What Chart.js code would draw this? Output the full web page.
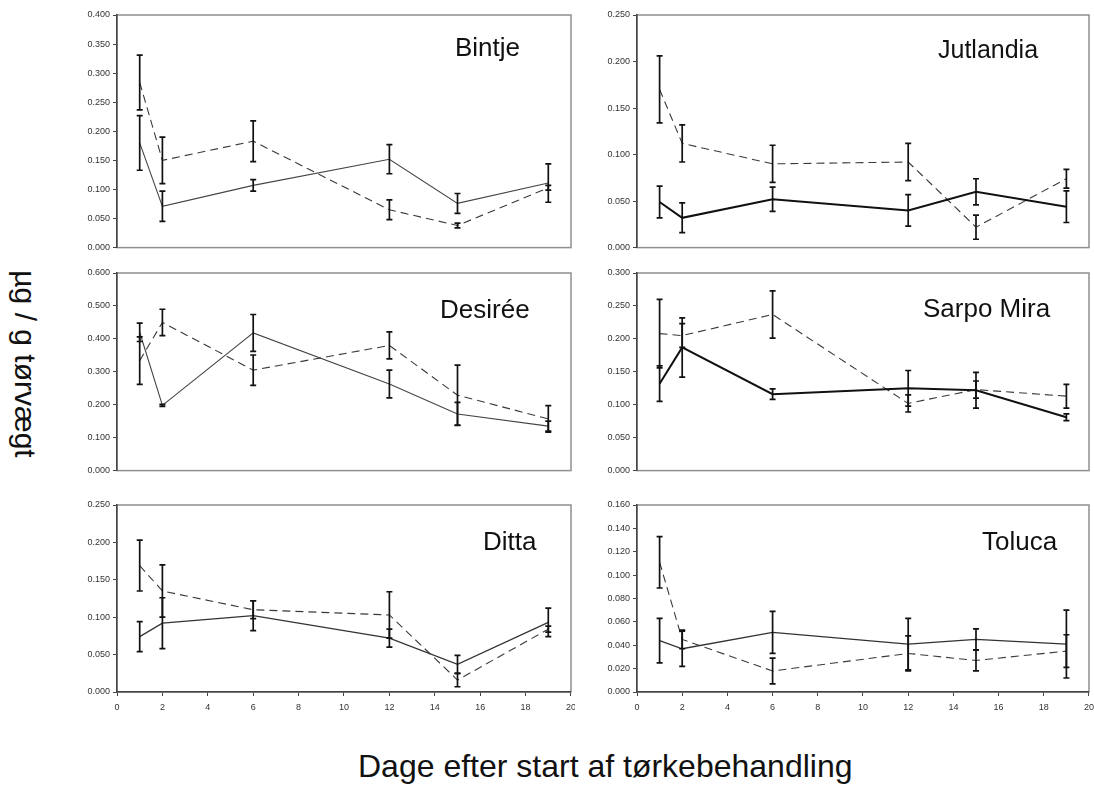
<!DOCTYPE html>
<html><head><meta charset="utf-8">
<script src="https://cdn.jsdelivr.net/npm/chart.js@4"></script>
<style>
html,body{margin:0;padding:0;background:#fff;width:1094px;height:787px;overflow:hidden;position:relative;font-family:"Liberation Sans",Arial,sans-serif}
canvas{position:absolute}
.ttl{position:absolute;color:#111;white-space:nowrap}
#ytitle{left:-125px;top:349px;width:300px;text-align:center;transform:rotate(90deg);font-size:30px;line-height:30px}
#xtitle{left:358px;top:750px;font-size:32px;line-height:32px}
</style></head><body>
<div id="ytitle" class="ttl">µg / g tørvægt</div>
<div id="xtitle" class="ttl">Dage efter start af tørkebehandling</div>
<script>
// ---- data ----
const days = [1, 2, 6, 12, 15, 19];
const varieties = ["Bintje", "Jutlandia", "Desirée", "Sarpo Mira", "Ditta", "Toluca"];
const yMaxes = [0.4, 0.25, 0.6, 0.3, 0.25, 0.16];
const ySteps = [0.05, 0.05, 0.1, 0.05, 0.05, 0.02];

const bintjeSolid = [0.180, 0.071, 0.107, 0.152, 0.076, 0.111];
const bintjeSolidErr = [0.047, 0.026, 0.010, 0.025, 0.017, 0.033];
const bintjeDashed = [0.284, 0.150, 0.183, 0.065, 0.038, 0.103];
const bintjeDashedErr = [0.047, 0.040, 0.035, 0.017, 0.004, 0.004];

const jutlandiaSolid = [0.049, 0.032, 0.052, 0.040, 0.060, 0.044];
const jutlandiaSolidErr = [0.017, 0.016, 0.013, 0.017, 0.014, 0.017];
const jutlandiaDashed = [0.170, 0.112, 0.090, 0.092, 0.022, 0.074];
const jutlandiaDashedErr = [0.036, 0.020, 0.020, 0.020, 0.013, 0.010];

const desireeSolid = [0.420, 0.198, 0.418, 0.263, 0.172, 0.135];
const desireeSolidErr = [0.028, 0.003, 0.056, 0.042, 0.035, 0.015];
const desireeDashed = [0.334, 0.450, 0.305, 0.380, 0.229, 0.157];
const desireeDashedErr = [0.072, 0.040, 0.046, 0.041, 0.091, 0.040];

const sarpoSolid = [0.132, 0.187, 0.116, 0.125, 0.122, 0.081];
const sarpoSolidErr = [0.027, 0.045, 0.008, 0.027, 0.027, 0.005];
const sarpoDashed = [0.208, 0.205, 0.237, 0.102, 0.123, 0.113];
const sarpoDashedErr = [0.052, 0.018, 0.036, 0.013, 0.013, 0.018];

const dittaSolid = [0.074, 0.092, 0.102, 0.072, 0.037, 0.093];
const dittaSolidErr = [0.020, 0.034, 0.020, 0.012, 0.012, 0.019];
const dittaDashed = [0.169, 0.135, 0.110, 0.103, 0.016, 0.084];
const dittaDashedErr = [0.034, 0.035, 0.012, 0.031, 0.009, 0.004];

const tolucaSolid = [0.044, 0.037, 0.051, 0.041, 0.045, 0.041];
const tolucaSolidErr = [0.019, 0.015, 0.018, 0.022, 0.009, 0.029];
const tolucaDashed = [0.111, 0.045, 0.018, 0.033, 0.027, 0.035];
const tolucaDashedErr = [0.022, 0.008, 0.011, 0.015, 0.009, 0.014];

const solids = [bintjeSolid, jutlandiaSolid, desireeSolid, sarpoSolid, dittaSolid, tolucaSolid];
const solidErrs = [bintjeSolidErr, jutlandiaSolidErr, desireeSolidErr, sarpoSolidErr, dittaSolidErr, tolucaSolidErr];
const dasheds = [bintjeDashed, jutlandiaDashed, desireeDashed, sarpoDashed, dittaDashed, tolucaDashed];
const dashedErrs = [bintjeDashedErr, jutlandiaDashedErr, desireeDashedErr, sarpoDashedErr, dittaDashedErr, tolucaDashedErr];

// ---- layout / style (not data) ----
const cols = [
  {left: 50, yW: 67, plotRight: 571},
  {left: 575, yW: 62, plotRight: 1089}
];
const rows = [
  {top: 5, plotTop: 15, plotBottom: 250, bottom: false},
  {top: 262, plotTop: 273, plotBottom: 473, bottom: false},
  {top: 494, plotTop: 505, plotBottom: 692, bottom: true}
];
const titlePos = [[455, 56, 26], [938, 58, 25], [440, 318, 26], [923, 317, 26], [483, 550, 26], [982, 550, 26]];
const solidWidths = [1.1, 2, 1.1, 2, 1.3, 1.3];
const solidColors = ['#444', '#111', '#444', '#111', '#333', '#333'];

const errorBars = {
  id: 'errorBars',
  afterDatasetsDraw(chart) {
    const ctx = chart.ctx, xs = chart.scales.x, ys = chart.scales.y;
    chart.data.datasets.forEach(ds => {
      ctx.save();
      ctx.strokeStyle = '#111';
      ctx.lineWidth = 1.7;
      ctx.setLineDash([]);
      ds.data.forEach((p, i) => {
        const e = ds.err[i];
        const px = xs.getPixelForValue(p.x);
        const y1 = ys.getPixelForValue(p.y - e), y2 = ys.getPixelForValue(p.y + e);
        ctx.beginPath();
        ctx.moveTo(px, y1); ctx.lineTo(px, y2);
        ctx.moveTo(px - 3, y1); ctx.lineTo(px + 3, y1);
        ctx.moveTo(px - 3, y2); ctx.lineTo(px + 3, y2);
        ctx.stroke();
      });
      ctx.restore();
    });
  }
};
const frame = {
  id: 'frame',
  beforeDraw(chart) {
    const ctx = chart.ctx, a = chart.chartArea;
    ctx.save();
    ctx.fillStyle = '#fff';
    ctx.fillRect(0, 0, chart.width, chart.height);
    ctx.strokeStyle = '#8f8f8f';
    ctx.lineWidth = 1.5;
    ctx.strokeRect(a.left, a.top, a.right - a.left, a.bottom - a.top);
    ctx.restore();
  },
  afterDraw(chart) {
    const o = chart.options.plugins.frame;
    const ctx = chart.ctx;
    ctx.save();
    ctx.font = o.size + 'px "Liberation Sans", Arial, sans-serif';
    ctx.fillStyle = '#111';
    ctx.textAlign = 'left';
    ctx.textBaseline = 'alphabetic';
    ctx.fillText(o.text, o.tx, o.ty);
    ctx.restore();
  }
};

function buildPanel(k, width) {
  const name = varieties[k];
  const col = cols[k % 2], row = rows[Math.floor(k / 2)];
  const padTop = row.plotTop - row.top;
  const padRight = 5;
  const bottomH = row.bottom ? 22 : 0;
  const padBottom = row.bottom ? 2 : 6;
  const height = row.plotBottom - row.top + bottomH + padBottom;
  const cv = document.createElement('canvas');
  cv.width = width; cv.height = height;
  cv.style.left = col.left + 'px'; cv.style.top = row.top + 'px';
  cv.style.width = width + 'px'; cv.style.height = height + 'px';
  document.body.appendChild(cv);
  const tp = titlePos[k];
  const chart = new Chart(cv, {
    type: 'line',
    data: {
      datasets: [
        {data: days.map((d, i) => ({x: d, y: solids[k][i]})), err: solidErrs[k],
         borderColor: solidColors[k], borderWidth: solidWidths[k], pointRadius: 0, tension: 0, fill: false},
        {data: days.map((d, i) => ({x: d, y: dasheds[k][i]})), err: dashedErrs[k],
         borderColor: '#3a3a3a', borderWidth: 1.1, borderDash: [8, 5], pointRadius: 0, tension: 0, fill: false}
      ]
    },
    options: {
      responsive: false, maintainAspectRatio: false, animation: false, devicePixelRatio: 1,
      layout: {padding: {left: 0, right: padRight, top: padTop, bottom: padBottom}},
      plugins: {
        legend: {display: false}, tooltip: {enabled: false},
        frame: {text: name, tx: tp[0] - col.left, ty: tp[1] - row.top, size: tp[2]}
      },
      scales: {
        x: {
          type: 'linear', min: 0, max: 20, display: row.bottom,
          ticks: {stepSize: 2, font: {size: 9, family: '"Liberation Sans", Arial'}, color: '#333', padding: 6, maxRotation: 0, autoSkip: false},
          grid: {display: true, drawOnChartArea: false, drawTicks: true, tickLength: 4, color: '#444'},
          border: {display: true, color: '#444', width: 1.5},
          afterFit(s) { s.height = bottomH; }
        },
        y: {
          min: 0, max: yMaxes[k],
          ticks: {stepSize: ySteps[k], callback: v => v.toFixed(3), font: {size: 9, family: '"Liberation Sans", Arial'}, color: '#333', padding: 3},
          grid: {display: true, drawOnChartArea: false, drawTicks: true, tickLength: 4, color: '#444'},
          border: {display: true, color: '#444', width: 1.5},
          afterFit(s) { s.width = col.yW; }
        }
      }
    },
    plugins: [frame, errorBars]
  });
  return {chart, cv, col};
}

varieties.forEach((name, k) => {
  const col = cols[k % 2];
  const w0 = col.plotRight + 5 - col.left;
  let p = buildPanel(k, w0);
  // keep the plot area's right edge where the reference has it
  const diff = Math.round(col.plotRight - (col.left + p.chart.chartArea.right));
  if (diff !== 0) {
    p.chart.destroy();
    p.cv.remove();
    buildPanel(k, w0 + diff);
  }
});
</script>
</body></html>
